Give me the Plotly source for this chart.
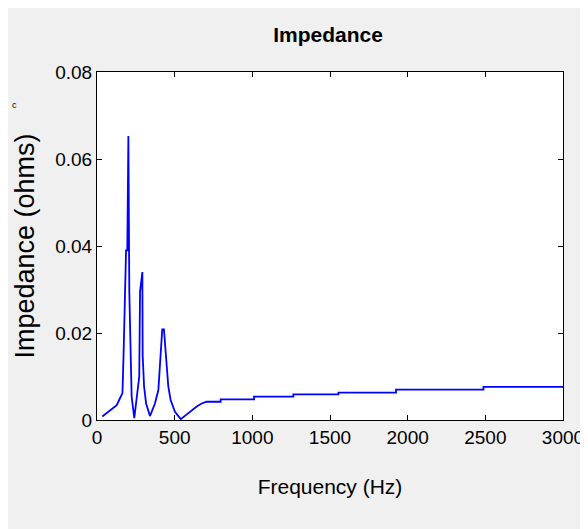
import plotly.graph_objects as go

# Data
freq_hz = [34, 84, 127, 148, 159, 164, 171, 187, 195, 202, 208, 217, 223, 240,
           256, 272, 277, 292, 294, 303, 316, 341, 373, 395, 410, 420, 431, 444,
           459, 474, 502, 539, 599, 642, 674, 706, 796, 796, 1011, 1011, 1264,
           1264, 1554, 1554, 1925, 1925, 2488, 2488, 3000]
impedance_ohms = [0.0008, 0.0023, 0.0034, 0.0050, 0.0061, 0.0062, 0.0150, 0.0390,
                  0.0390, 0.0653, 0.0295, 0.0100, 0.0054, 0.0004, 0.0046, 0.0100,
                  0.0295, 0.0340, 0.0149, 0.0077, 0.0038, 0.0009, 0.0038, 0.0069,
                  0.0153, 0.0208, 0.0208, 0.0149, 0.0077, 0.0046, 0.0019, 0.0002,
                  0.0019, 0.0031, 0.0038, 0.0042, 0.0042, 0.00475, 0.00475, 0.00536,
                  0.00536, 0.0059, 0.0059, 0.0063, 0.0063, 0.0070, 0.0070, 0.0076,
                  0.0076]
x_ticks = [0, 500, 1000, 1500, 2000, 2500, 3000]
y_ticks = [0, 0.02, 0.04, 0.06, 0.08]
y_tick_text = ["0", "0.02", "0.04", "0.06", "0.08"]

OFF = 8  # page body margin
W, H = 588 - OFF, 529 - OFF
ML, MT = 97 - OFF, 72 - OFF
MR = W - (563 - OFF)
MB = H - (420 - OFF)
PW, PH = W - ML - MR, H - MT - MB

FONT = "Liberation Sans, Arial, sans-serif"

fig = go.Figure()
fig.add_trace(go.Scatter(x=freq_hz, y=impedance_ohms, mode="lines",
                         line=dict(color="#0000ff", width=1.8), showlegend=False))

def px_x(p):  # page pixel -> paper x
    return (p - OFF - ML) / PW

def px_y(p):  # page pixel -> paper y
    return (H - MB - (p - OFF)) / PH

axis_common = dict(showline=True, linecolor="black", linewidth=1, mirror="ticks",
                   ticks="inside", ticklen=5, tickcolor="black", tickwidth=1,
                   showgrid=False, zeroline=False, automargin=False,
                   tickfont=dict(family=FONT, size=19, color="black"))

fig.update_layout(
    width=W, height=H,
    margin=dict(l=ML, r=MR, t=MT, b=MB),
    paper_bgcolor="#f0f0f0", plot_bgcolor="white",
    title=dict(text="<b>Impedance</b>", x=px_x(328), xref="paper", xanchor="center",
               y=1 - (35 - OFF) / H, yref="container", yanchor="middle",
               font=dict(family=FONT, size=21, color="black")),
    xaxis=dict(range=[0, 3000], tickvals=x_ticks,
               title=dict(text="Frequency (Hz)", standoff=32,
                          font=dict(family=FONT, size=21, color="black")),
               **axis_common),
    yaxis=dict(range=[0, 0.08], tickvals=y_ticks, ticktext=y_tick_text,
               title=dict(text="Impedance (ohms)", standoff=12,
                          font=dict(family=FONT, size=27, color="black")),
               **axis_common),
    annotations=[dict(text="c", xref="paper", yref="paper", x=px_x(10), y=px_y(98),
                      xanchor="left", showarrow=False,
                      font=dict(family=FONT, size=9, color="black"))],
)

fig.write_html("out.html")
